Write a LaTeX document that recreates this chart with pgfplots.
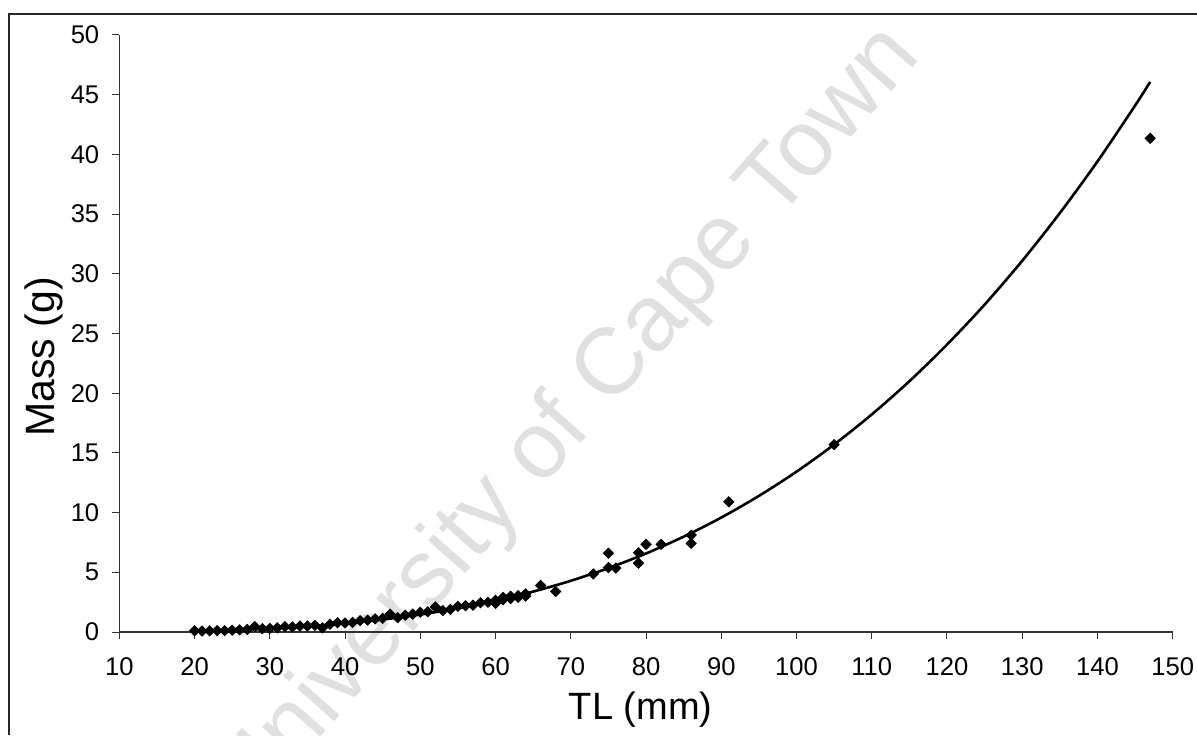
\documentclass[border=0pt]{standalone}
\usepackage{pgfplots}
\pgfplotsset{compat=1.18}
\usepackage{fontspec}
\setmainfont{Liberation Sans}
\pgfplotstableread{
x y
20 0.10
21 0.08
22 0.10
23 0.12
24 0.12
25 0.15
26 0.18
27 0.22
28 0.45
29 0.28
30 0.30
31 0.35
32 0.45
33 0.42
34 0.50
35 0.50
36 0.55
37 0.35
38 0.65
39 0.78
40 0.75
41 0.80
42 0.95
43 1.00
44 1.10
45 1.15
46 1.50
47 1.20
48 1.40
49 1.50
50 1.65
51 1.70
52 2.10
53 1.80
54 1.90
55 2.15
56 2.20
57 2.25
58 2.45
59 2.50
60 2.65
60 2.40
61 2.90
61 2.70
62 3.00
62 2.80
63 3.05
63 2.90
64 3.20
64 3.00
66 3.90
68 3.40
73 4.86
75 6.60
75 5.40
76 5.35
79 6.64
79 5.77
80 7.34
82 7.34
86 8.12
86 7.42
91 10.90
105 15.70
147 41.35
}\scatterdata
\pgfplotstableread{
x y
20 0.078
25 0.159
30 0.285
35 0.467
40 0.716
45 1.043
50 1.461
55 1.983
60 2.619
65 3.384
70 4.289
75 5.349
80 6.575
85 7.985
90 9.585
95 11.397
100 13.430
105 15.70
110 18.22
115 21.00
120 24.07
125 27.42
130 31.09
135 35.09
140 39.41
145 44.09
147 46.07
}\fitdata
\begin{document}
\begin{tikzpicture}
\useasboundingbox (0,0) rectangle (598.5pt,367.5pt);
\begin{scope}
\clip (0,0) rectangle (598.5pt,367.5pt);
\node[rotate=48.5, text=black!12, font=\fontsize{47}{54}\selectfont] at (284pt,157pt) {University of Cape Town};
\end{scope}
\draw[line width=0.6pt, black!85] (4.5pt,0pt) -- (4.5pt,360.5pt) -- (598.5pt,360.5pt);
\begin{axis}[
  at={(59.65pt,51.5pt)}, anchor=south west,
  scale only axis, width=526.7pt, height=298.5pt,
  xmin=10, xmax=150, ymin=0, ymax=50,
  axis x line=bottom, axis y line=left,
  axis line style={-, line width=0.6pt, black!80},
  xtick={10,20,...,150}, ytick={0,5,...,50},
  tick align=outside, major tick length=3.5pt,
  tick style={line width=0.5pt, black!80},
  /pgf/number format/assume math mode=true,
  ticklabel style={font=\fontsize{12.8}{15}\selectfont},
  xticklabel shift=6pt, yticklabel shift=3pt,
  xlabel={TL (mm)}, ylabel={Mass (g)},
  every axis x label/.style={at={(axis description cs:0.495,0)}, yshift=-39pt, anchor=center, font=\fontsize{19}{22}\selectfont},
  every axis y label/.style={at={(axis description cs:0,0.4606)}, xshift=-37.6pt, anchor=center, rotate=90, font=\fontsize{20.5}{24}\selectfont},
  clip=false,
]
\addplot[black, line width=1.3pt, smooth] table[x=x,y=y] {\fitdata};
\addplot[only marks, mark=square*, mark size=1.8pt, mark options={rotate=45, fill=black, draw=black}] table[x=x,y=y] {\scatterdata};
\end{axis}
\end{tikzpicture}
\end{document}
